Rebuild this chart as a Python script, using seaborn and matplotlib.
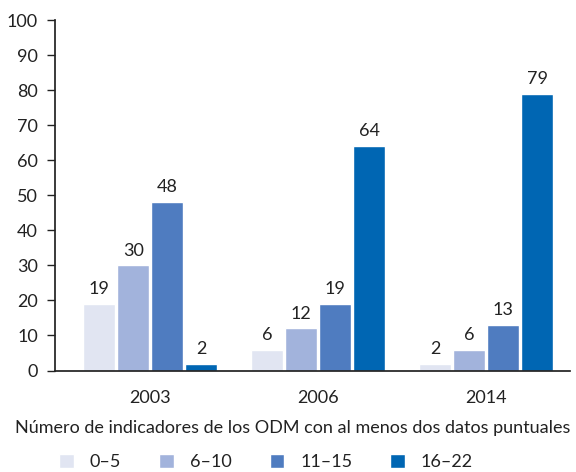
import pandas as pd
import matplotlib.pyplot as plt
import seaborn as sns

years = ['2003', '2006', '2014']
groups = ['0–5', '6–10', '11–15', '16–22']
v_0_5 = [19, 6, 2]
v_6_10 = [30, 12, 6]
v_11_15 = [48, 19, 13]
v_16_22 = [2, 64, 79]
colors = ['#E1E5F2', '#A2B3DC', '#4F7CC0', '#0066B3']

rows = []
for g, vals in zip(groups, [v_0_5, v_6_10, v_11_15, v_16_22]):
    for y, v in zip(years, vals):
        rows.append({'Año': y, 'Grupo': g, 'Valor': v})
df = pd.DataFrame(rows)

sns.set_theme(style="white")
plt.rcParams['font.family'] = ['Lato', 'DejaVu Sans']

fig, ax = plt.subplots(figsize=(5.76, 4.72), dpi=100)
sns.barplot(data=df, x='Año', y='Valor', hue='Grupo', hue_order=groups,
            palette=colors, width=0.81, gap=0.06, saturation=1, ax=ax)

for container in ax.containers:
    ax.bar_label(container, fmt='%.0f', padding=5, fontsize=13, color='#222222')

ax.set_ylim(0, 100)
ax.set_yticks(range(0, 101, 10))
ax.set_xlim(-0.57, 2.5)
ax.set_xlabel('')
ax.set_ylabel('')
ax.tick_params(axis='y', left=True, length=6, width=1, color='#222222', labelsize=13, labelcolor='#222222', pad=6)
ax.tick_params(axis='x', bottom=False, labelsize=13, labelcolor='#222222', pad=8)
for s in ['top', 'right']:
    ax.spines[s].set_visible(False)
ax.spines['left'].set_color('#222222')
ax.spines['bottom'].set_color('#222222')

handles, labels = ax.get_legend_handles_labels()
ax.legend_.remove()
fig.text(0.509, 1 - 428 / 472, 'Número de indicadores de los ODM con al menos dos datos puntuales',
         ha='center', va='center', fontsize=13, color='#222222')
fig.legend(handles, labels, loc='center', bbox_to_anchor=(0.462, 1 - 462 / 472), ncol=4,
           frameon=False, fontsize=13, handlelength=0.8, handleheight=0.8,
           columnspacing=2.1, handletextpad=0.9, labelcolor='#222222')

fig.subplots_adjust(left=0.095, right=0.99, top=0.957, bottom=0.215)
fig.savefig('out.png', dpi=100)
